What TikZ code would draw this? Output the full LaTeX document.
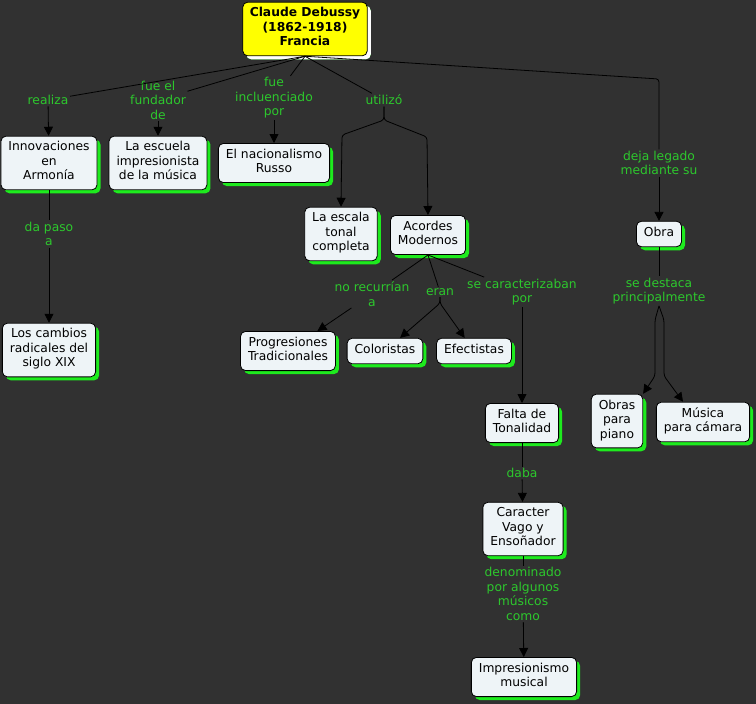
\documentclass[tikz,border=0pt]{standalone}
\usepackage{fontspec}
\setmainfont{DejaVu Sans}
\usetikzlibrary{arrows.meta, shadows, calc}
\definecolor{fond}{RGB}{49,49,49}
\definecolor{vert}{RGB}{45,200,45}
\definecolor{ombre}{RGB}{30,235,30}
\definecolor{boite}{RGB}{238,244,247}
\definecolor{jaune}{RGB}{255,255,0}
\tikzset{
  concept/.style={draw=black, fill=boite, rounded corners=5pt, align=center,
    font=\fontsize{12.3}{14.5}\selectfont, inner xsep=7.5pt, inner ysep=5.5pt, line width=0.8pt,
    execute at begin node=\strut, execute at end node=\strut,
    drop shadow={shadow xshift=3.5pt, shadow yshift=-3.5pt, fill=ombre, opacity=1}},
  lien/.style={text=vert, align=center, font=\fontsize{12.3}{14.5}\selectfont, inner sep=1.5pt},
  trait/.style={line width=0.8pt, rounded corners=3pt},
  fleche/.style={trait, -{Triangle[length=9pt,width=9pt]}},
}
\begin{document}
\begin{tikzpicture}[x=1pt, y=-1pt]
    % Le fond
    \fill[fond] (0,0) rectangle (756,704);
    \useasboundingbox (0,0) rectangle (756,704);

    % Le concept principal
    \node[concept, fill=jaune, font=\fontsize{12.3}{14.5}\selectfont\bfseries, inner xsep=7pt,
      drop shadow={shadow xshift=3.5pt, shadow yshift=-3.5pt, fill=white, opacity=1}]
      (debussy) at (305,29) {Claude Debussy\\(1862-1918)\\Francia};

    % Les concepts
    \node[concept] (innov) at (49,163) {Innovaciones\\en\\Armonía};
    \node[concept] (escuela) at (158,163) {La escuela\\impresionista\\de la música};
    \node[concept] (nacion) at (274,163) {El nacionalismo\\Russo};
    \node[concept] (escala) at (341,234) {La escala\\tonal\\completa};
    \node[concept] (acordes) at (428,235) {Acordes\\Modernos};
    \node[concept] (obra) at (659,234) {Obra};
    \node[concept] (cambios) at (49,350) {Los cambios\\radicales del\\siglo XIX};
    \node[concept] (progres) at (288,351) {Progresiones\\Tradicionales};
    \node[concept] (colo) at (385,351) {Coloristas};
    \node[concept] (efec) at (474,351) {Efectistas};
    \node[concept] (falta) at (522,423) {Falta de\\Tonalidad};
    \node[concept] (piano) at (617,421) {Obras\\para\\piano};
    \node[concept] (camara) at (703,422) {Música\\para cámara};
    \node[concept] (caracter) at (523,529) {Caracter\\Vago y\\Ensoñador};
    \node[concept] (impres) at (524,677) {Impresionismo\\musical};

    % Les mots de liaison
    \node[lien] (realiza) at (48,100) {realiza};
    \node[lien] (fundador) at (158,100) {fue el\\fundador\\de};
    \node[lien] (influ) at (274,98) {fue\\incluenciado\\por};
    \node[lien] (utilizo) at (384,100) {utilizó};
    \node[lien] (deja) at (659,163) {deja legado\\mediante su};
    \node[lien] (dapaso) at (49,234) {da paso\\a};
    \node[lien] (norecur) at (372,294) {no recurrían\\a};
    \node[lien] (eran) at (440,292) {eran};
    \node[lien] (caract) at (522,292) {se caracterizaban\\por};
    \node[lien] (destaca) at (659,291) {se destaca\\principalmente};
    \node[lien] (daba) at (522,473) {daba};
    \node[lien] (denom) at (523,594) {denominado\\por algunos\\músicos\\como};

    % Depuis Debussy
    \coordinate (coude) at (659,79);
    \draw[trait] (debussy.south) -- (realiza);
    \draw[trait] (debussy.south) -- (fundador);
    \draw[trait] (debussy.south) -- (influ);
    \draw[trait] (debussy.south) -- (utilizo);
    \draw[trait] (debussy.south) -- (coude) -- (deja.north);
    \draw[fleche] (realiza) -- (innov);
    \draw[fleche] (fundador) -- (escuela);
    \draw[fleche] (influ) -- (nacion);
    \draw[fleche] (deja) -- (obra);

    % utilizó
    \coordinate (u) at (384,120);
    \draw[fleche] (utilizo.south) -- (u) -- (342,135) -- (escala.north);
    \draw[fleche] (utilizo.south) -- (u) -- (427,137) -- (acordes.north);

    % Armonía
    \draw[trait] (innov) -- (dapaso);
    \draw[fleche] (dapaso) -- (cambios);

    % Acordes Modernos
    \draw[trait] (acordes.south) -- (norecur);
    \draw[trait] (acordes.south) -- (eran);
    \draw[trait] (acordes.south) -- (caract);
    \draw[fleche] (norecur) -- (progres);
    \draw[fleche] (eran.south) -- ++(0,6) -- (colo);
    \draw[fleche] (eran.south) -- ++(0,6) -- (efec);
    \draw[fleche] (caract) -- (falta);

    % Falta de Tonalidad
    \draw[trait] (falta) -- (daba);
    \draw[fleche] (daba) -- (caracter);
    \draw[trait] (caracter) -- (denom);
    \draw[fleche] (denom) -- (impres);

    % Obra
    \draw[trait] (obra) -- (destaca);
    \draw[fleche] (destaca.south) -- ++(-4,14) -- ++(0,56) -- (piano.north east);
    \draw[fleche] (destaca.south) -- ++(5,14) -- ++(0,56) -- ($(camara.north)+(-20,0)$);
\end{tikzpicture}
\end{document}
